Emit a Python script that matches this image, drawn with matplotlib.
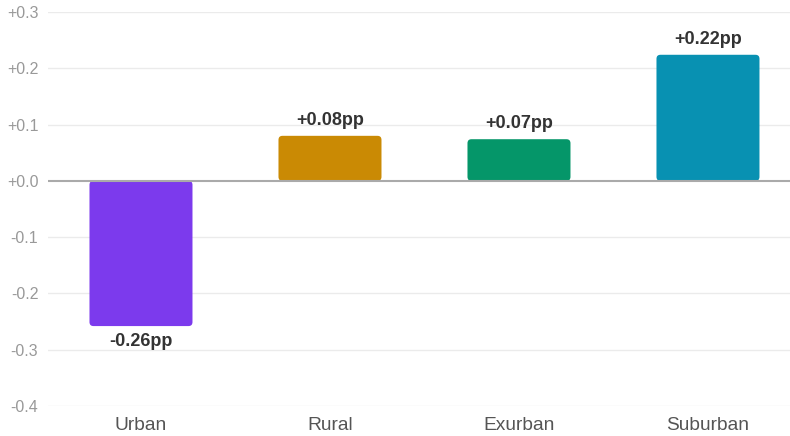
import matplotlib
matplotlib.use('Agg')
import matplotlib.pyplot as plt
from matplotlib.patches import FancyBboxPatch

categories = ['Urban', 'Rural', 'Exurban', 'Suburban']
values = [-0.258, 0.080, 0.074, 0.224]
colors = ['#7c3aed', '#ca8a04', '#059669', '#0891b2']
yticks = [-0.4, -0.3, -0.2, -0.1, 0.0, 0.1, 0.2, 0.3]

plt.rcParams['font.family'] = ['Liberation Sans', 'DejaVu Sans']

fig = plt.figure(figsize=(7.9, 4.36), dpi=100)
ax = fig.add_axes([48 / 790, 30 / 436, 742 / 790, 394 / 436])
ax.set_xlim(-0.492, 3.434)
ax.set_ylim(-0.4, 0.3)

# px -> data conversion so the rounded corners stay round
px_x = (3.434 + 0.492) / 742
px_y = 0.7 / 394
width = 103 * px_x
for i, (v, c) in enumerate(zip(values, colors)):
    y0 = min(0, v)
    box = FancyBboxPatch((i - width / 2, y0), width, abs(v),
                         boxstyle='round,pad=0,rounding_size=%f' % (4 * px_x),
                         mutation_aspect=px_y / px_x,
                         facecolor=c, edgecolor='none', zorder=3)
    ax.add_patch(box)
    label = '%+.2fpp' % v
    if v >= 0:
        ax.text(i, v + 7 * px_y, label, ha='center', va='bottom',
                fontsize=13, fontweight='bold', color='#333333', zorder=4)
    else:
        ax.text(i, v - 7 * px_y, label, ha='center', va='top',
                fontsize=13, fontweight='bold', color='#333333', zorder=4)

for t in yticks:
    if abs(t) < 1e-9:
        continue
    ax.axhline(t, color='#ebebeb', lw=1, zorder=1)
ax.axhline(0, color='#aaaaaa', lw=1.5, zorder=5)

ax.set_yticks(yticks)
ax.set_yticklabels(['%+.1f' % t if t != 0 else '+0.0' for t in yticks])
ax.set_xticks(range(len(categories)))
ax.set_xticklabels(categories)
ax.tick_params(axis='y', length=0, pad=7, labelsize=11.5, labelcolor='#999999')
ax.tick_params(axis='x', length=0, pad=8, labelsize=13.8, labelcolor='#555555')
for s in ax.spines.values():
    s.set_visible(False)

fig.savefig('out.png', dpi=100)
